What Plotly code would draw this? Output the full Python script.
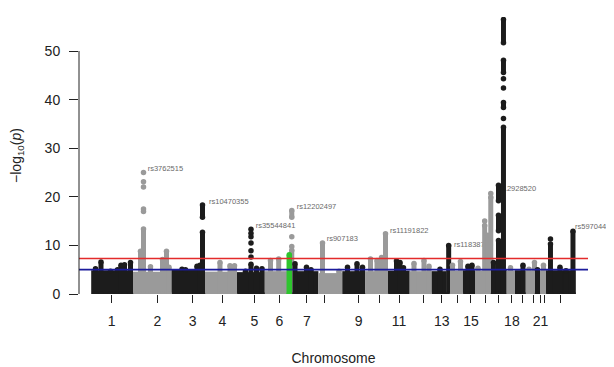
import plotly.graph_objects as go

# ---------------- data ----------------
# chromosome blocks: cumulative genome position (Mb-like units)
chrom = [str(i) for i in range(1, 24)]
chr_start = [0.0, 249.6, 492.5, 689.3, 884.2, 1061.9, 1240.3, 1397.1, 1544.0, 1686.1,
             1822.6, 1958.5, 2092.6, 2186.0, 2278.3, 2360.0, 2448.0, 2555.0, 2606.0,
             2667.5, 2729.0, 2759.7, 2796.6]
chr_end = chr_start[1:] + [2979.2]
# upper level of the dense cloud of SNPs in each chromosome (-log10 p)
chr_level = [4.9, 4.6, 5.0, 4.6, 4.5, 4.7, 4.7, 4.3, 4.7, 4.7, 4.8, 4.7, 4.7, 4.8,
             4.9, 4.8, 5.0, 4.8, 4.9, 4.8, 4.9, 4.8, 4.9]

# tick positions (one per chromosome) and the labels R managed to print
tick_pos = [126.0, 406.4, 624.1, 806.8, 1003.5, 1156.6, 1325.7, 1435.2, 1644.2, 1774.0,
            1893.3, 2042.1, 2155.3, 2251.8, 2335.4, 2427.6, 2503.3, 2586.9, 2653.9,
            2718.5, 2762.8, 2789.8, 2888.2]
label_pos = [126.0, 406.4, 624.1, 806.8, 1003.5, 1156.6, 1325.7, 1644.2, 1893.3,
             2155.3, 2335.4, 2586.9, 2762.8]
label_txt = ["1", "2", "3", "4", "5", "6", "7", "9", "11", "13", "15", "18", "21"]

# stacks of SNPs rising above the cloud: chromosome, position, bottom, top
stack_chr = [1, 1, 1, 1, 1, 1, 1,
             2, 2, 2, 2, 2, 2,
             3, 3, 3, 3, 3, 3,
             4, 4, 4,
             5, 5, 5, 5,
             6, 6, 6, 6,
             7, 7, 7,
             8, 8,
             9, 9, 9,
             10, 10, 10, 10,
             11, 11, 11,
             12, 12, 12,
             13, 13,
             14, 14,
             15, 15,
             16, 16, 16, 16,
             17, 17, 17, 17, 17, 17, 17, 17,
             18, 19, 20, 20, 21, 22,
             23, 23, 23, 23]
stack_pos = [26.5, 60.3, 118.7, 161.7, 183.2, 204.8, 241.7,
             303.1, 321.6, 364.6, 438.4, 463.0, 478.4,
             558.4, 579.8, 650.6, 669.0, 684.4, 684.4,
             792.0, 853.5, 881.2,
             948.8, 982.6, 1016.5, 1050.2,
             1102.5, 1152.9, 1233.4, 1233.4,
             1253.2, 1323.9, 1351.6,
             1422.3, 1523.8,
             1576.1, 1634.5, 1668.3,
             1717.5, 1757.5, 1785.2, 1809.8,
             1877.3, 1898.8, 1920.3,
             1984.9, 2046.4, 2077.1,
             2144.8, 2198.3,
             2221.6, 2270.8,
             2316.9, 2341.5,
             2378.4, 2419.6, 2438.6, 2457.1,
             2473.7, 2504.5, 2504.5, 2504.5, 2535.2, 2535.2, 2535.2, 2535.2,
             2578.3, 2655.1, 2692.0, 2725.8, 2744.3, 2781.2,
             2824.2, 2882.6, 2919.5, 2962.6]
stack_lo = [0, 0, 0, 0, 0, 0, 0,
            0, 0, 0, 0, 0, 0,
            0, 0, 0, 0, 0, 15.8,
            0, 0, 0,
            0, 0, 0, 0,
            0, 0, 0, 15.8,
            0, 0, 0,
            0, 0,
            0, 0, 0,
            0, 0, 0, 0,
            0, 0, 0,
            0, 0, 0,
            0, 0,
            0, 0,
            0, 0,
            0, 0, 0, 0,
            0, 0, 13.0, 19.2, 0, 38.4, 45.6, 51.7,
            0, 0, 0, 0, 0, 0,
            0, 0, 0, 0]
stack_hi = [5.2, 6.6, 4.7, 5.0, 5.9, 6.0, 6.5,
            8.8, 13.4, 5.6, 7.1, 8.8, 5.5,
            5.1, 5.0, 5.7, 5.9, 12.7, 18.3,
            6.5, 5.8, 5.8,
            4.7, 6.1, 5.3, 5.2,
            6.9, 7.2, 9.0, 17.2,
            6.2, 5.5, 5.0,
            10.5, 4.7,
            5.5, 6.2, 5.5,
            7.2, 6.9, 7.5, 12.4,
            6.8, 6.5, 5.4,
            6.3, 6.9, 5.7,
            5.1, 10.0,
            5.9, 6.7,
            5.7, 5.9,
            5.3, 14.1, 12.1, 19.9,
            6.5, 11.0, 16.2, 22.4, 34.3, 39.4, 48.1, 56.5,
            5.4, 5.9, 5.1, 6.5, 5.0, 5.9,
            10.3, 5.5, 4.8, 12.9]

# isolated SNPs above the stacks: chromosome, position, -log10 p
dot_chr = [2, 2, 2, 2, 2, 5, 5, 5, 5, 5, 5, 6, 6, 16, 16, 17, 17, 17, 23]
dot_pos = [321.6, 321.6, 321.6, 321.6, 321.6, 982.6, 982.6, 982.6, 982.6, 982.6,
           982.6, 1233.4, 1233.4, 2419.6, 2457.1, 2535.2, 2535.2, 2535.2, 2824.2]
dot_val = [25.0, 23.1, 22.0, 17.5, 17.0, 13.3, 12.5, 11.8, 10.5, 8.9, 7.6, 11.8, 9.8,
           15.0, 20.7, 36.1, 42.4, 44.3, 11.3]

# highlighted region (chromosome 6)
hl_pos = [1218.1]
hl_top = [8.1]

# annotated top SNPs
snp_name = ["rs3762515", "rs10470355", "rs35544841", "rs12202497", "rs907183",
            "rs11191822", "rs11838776", "rs12928520", "rs3744020", "rs5970447"]
snp_pos = [347.4, 724.4, 1011.5, 1263.6, 1448.1, 1837.3, 2230.9, 2492.2, 2564.8, 2975.0]
snp_val = [25.7, 19.0, 13.9, 17.9, 11.2, 13.0, 10.1, 21.6, 57.2, 13.7]

suggestive = 5.0
genomewide = 7.3
x_range = [-75, 3055]
y_range = [0, 57]
y_ticks = [0, 10, 20, 30, 40, 50]

# ---------------- styling ----------------
BLACK = "#1c1c1c"
GRAY = "#9a9a9a"
INK = "#222222"


def col(c):
    return BLACK if c % 2 == 1 else GRAY


fig = go.Figure()

# labels first (the points are drawn over them, as in the original)
fig.add_trace(go.Scatter(x=snp_pos, y=snp_val, mode="text", text=snp_name,
                         textposition="middle right", cliponaxis=False,
                         textfont=dict(family="Liberation Sans, Arial", size=7.5,
                                       color="#6a6a6a"),
                         hoverinfo="skip", showlegend=False))

# dense clouds
for i, c in enumerate(chrom):
    x0, x1, lv = chr_start[i], chr_end[i], chr_level[i]
    fig.add_trace(go.Scatter(x=[x0, x0, x1, x1, x0], y=[0, lv, lv, 0, 0],
                             mode="lines", fill="toself", fillcolor=col(i + 1),
                             line=dict(width=0, color=col(i + 1)),
                             hoverinfo="skip", showlegend=False))

# stacks
for c, p, lo, hi in zip(stack_chr, stack_pos, stack_lo, stack_hi):
    fig.add_trace(go.Scatter(x=[p, p], y=[lo, hi], mode="lines+markers",
                             line=dict(width=5, color=col(c)),
                             marker=dict(size=5.5, color=col(c)),
                             hoverinfo="skip", showlegend=False))

# single points
for c in sorted(set(dot_chr)):
    xs = [p for cc, p in zip(dot_chr, dot_pos) if cc == c]
    ys = [v for cc, v in zip(dot_chr, dot_val) if cc == c]
    fig.add_trace(go.Scatter(x=xs, y=ys, mode="markers",
                             marker=dict(size=5.5, color=col(c)),
                             hoverinfo="skip", showlegend=False))

# highlighted SNPs
for p, t in zip(hl_pos, hl_top):
    fig.add_trace(go.Scatter(x=[p, p], y=[0, t], mode="lines+markers",
                             line=dict(width=5.5, color="#2ec52e"),
                             marker=dict(size=5.5, color="#2ec52e"),
                             hoverinfo="skip", showlegend=False))

# invisible trace on the tick-only axis
fig.add_trace(go.Scatter(x=[tick_pos[0]], y=[0], xaxis="x2", yaxis="y",
                         mode="markers", marker=dict(size=1, opacity=0),
                         hoverinfo="skip", showlegend=False))

# threshold lines
fig.add_hline(y=genomewide, line=dict(color="#e32b2b", width=1.4), layer="above")
fig.add_hline(y=suggestive, line=dict(color="#1b1b9c", width=1.8), layer="above")

# y axis line only over the labelled range (R style)
fig.add_shape(type="line", xref="paper", yref="y", x0=0, x1=0,
              y0=y_ticks[0], y1=y_ticks[-1], line=dict(color=INK, width=1))

# the page body has an 8px margin, so the figure is 8px smaller than the window
fig.update_layout(
    width=606, height=359,
    margin=dict(l=71, r=26, t=9, b=73, autoexpand=False),
    paper_bgcolor="white", plot_bgcolor="white",
    font=dict(family="Liberation Sans, Arial", size=14, color=INK),
    showlegend=False,
    xaxis=dict(range=x_range, showgrid=False, zeroline=False, showline=False,
               automargin=False,
               tickmode="array", tickvals=label_pos, ticktext=label_txt,
               ticks="outside", ticklen=8, tickwidth=1, tickcolor=INK,
               ticklabelstandoff=6,
               title=dict(text="Chromosome", standoff=25, font=dict(size=14))),
    xaxis2=dict(range=x_range, overlaying="x", anchor="y", side="bottom",
                automargin=False,
                showgrid=False, zeroline=False, showline=False,
                tickmode="array", tickvals=tick_pos, showticklabels=False,
                ticks="outside", ticklen=8, tickwidth=1, tickcolor=INK),
    yaxis=dict(range=y_range, showgrid=False, zeroline=False, showline=False,
               automargin=False,
               tickmode="array", tickvals=y_ticks,
               ticks="outside", ticklen=9, tickwidth=1, tickcolor=INK,
               ticklabelstandoff=6,
               title=dict(text="\u2212log<sub>10</sub>(<i>p</i>)", standoff=24,
                          font=dict(size=14))),
)

fig.write_html("out.html")
